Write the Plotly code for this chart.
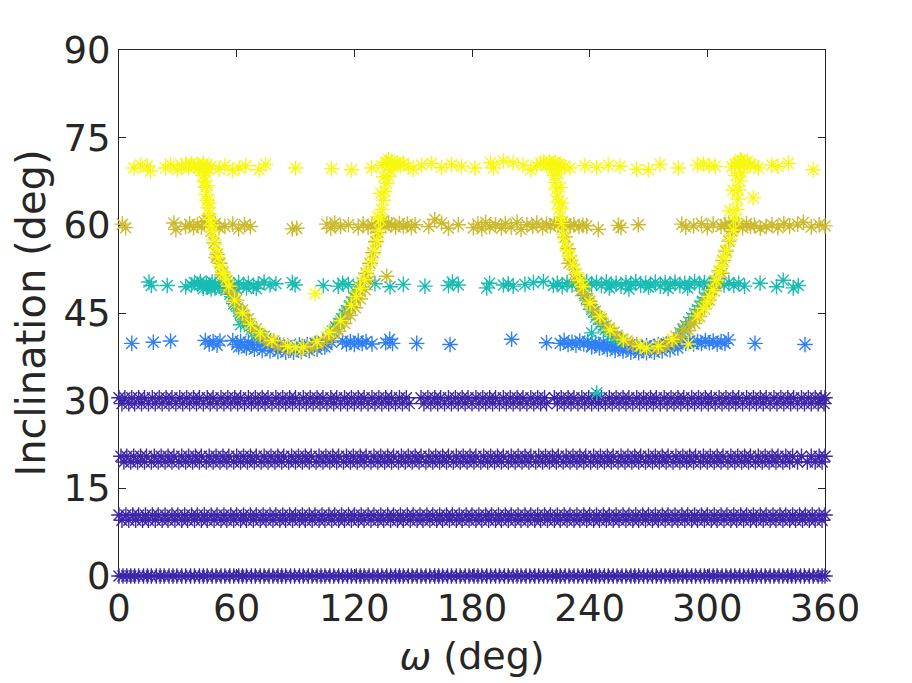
import plotly.graph_objects as go

# colours of the five groups (parula-like)
purple = "#3e26a8"
blue = "#2f7ff5"
cyan = "#18bcb2"
olive = "#cbba2c"
yellow = "#f8f80f"

# --- dense purple bands (two rows per band to give the band some thickness)
band30_inc = [30.5, 29.5]
band30_w_a = [0, 3, 6.5, 10, 13, 17, 20.5, 24, 27, 31, 34.5, 38, 41, 45, 48, 52, 55.5, 59, 62,
              66, 69.5, 73, 76, 80, 83.5, 87, 90, 94, 97.5, 101, 104, 108, 111, 115, 118.5,
              122, 125, 129, 132.5, 136, 139, 143, 146.5, 154, 157.5, 161, 164, 168, 171.5,
              175, 178, 182, 185.5, 189, 192, 196, 199.5, 203, 206, 210, 213.5, 217, 222,
              225.5, 229, 232, 236, 239.5, 243, 246, 250, 253.5, 257, 260, 264, 267.5, 271,
              274, 278, 281.5, 285, 288, 292, 295.5, 299, 302, 306, 309.5, 313, 316, 320,
              323.5, 327, 330, 334, 337.5, 341, 344, 348, 351.5, 355, 358, 360]
band30_w_b = [1.5, 5, 8, 11.5, 15, 18.5, 22, 25.5, 29, 32.5, 36, 39.5, 43, 46.5, 50, 53.5,
              57, 60.5, 64, 67.5, 71, 74.5, 78, 81.5, 85, 88.5, 92, 95.5, 99, 102.5, 106,
              109.5, 113, 116.5, 120, 123.5, 127, 130.5, 134, 137.5, 141, 144.5, 148, 155.5,
              159, 162.5, 166, 169.5, 173, 176.5, 180, 183.5, 187, 190.5, 194, 197.5, 201,
              204.5, 208, 211.5, 215, 218, 223.5, 227, 230.5, 234, 237.5, 241, 244.5, 248,
              251.5, 255, 258.5, 262, 265.5, 269, 272.5, 276, 279.5, 283, 286.5, 290, 293.5,
              297, 300.5, 304, 307.5, 311, 314.5, 318, 321.5, 325, 328.5, 332, 335.5, 339,
              342.5, 346, 349.5, 353, 356.5, 359.5]

band20_inc = [20.5, 19.5]
band20_w_a = [1, 4, 7.5, 11, 14, 18, 21.5, 25, 28, 32, 35.5, 39, 42, 46, 49.5, 53, 56, 60,
              63.5, 67, 70, 74, 77.5, 81, 84, 88, 91.5, 95, 98, 102, 105.5, 109, 112, 116,
              119.5, 123, 126, 130, 133.5, 137, 140, 144, 147.5, 151, 154, 158, 161.5, 165,
              168, 172, 175.5, 179, 182, 186, 189.5, 193, 196, 200, 203.5, 207, 210, 214,
              217.5, 221, 224, 228, 231.5, 235, 238, 242, 245.5, 249, 252, 256, 259.5, 263,
              266, 270, 273.5, 277, 280, 284, 287.5, 291, 294, 298, 301.5, 305, 308, 312,
              315.5, 319, 322, 326, 329.5, 333, 336, 340, 343.5, 348, 353, 357, 360]
band20_w_b = [2.5, 6, 9.5, 13, 16.5, 20, 23.5, 27, 30.5, 34, 37.5, 41, 44.5, 48, 51.5, 55,
              58.5, 62, 65.5, 69, 72.5, 76, 79.5, 83, 86.5, 90, 93.5, 97, 100.5, 104, 107.5,
              111, 114.5, 118, 121.5, 125, 128.5, 132, 135.5, 139, 142.5, 146, 149.5, 153,
              156.5, 160, 163.5, 167, 170.5, 174, 177.5, 181, 184.5, 188, 191.5, 195, 198.5,
              202, 205.5, 209, 212.5, 216, 219.5, 223, 226.5, 230, 233.5, 237, 240.5, 244,
              247.5, 251, 254.5, 258, 261.5, 265, 268.5, 272, 275.5, 279, 282.5, 286, 289.5,
              293, 296.5, 300, 303.5, 307, 310.5, 314, 317.5, 321, 324.5, 328, 331.5, 335,
              338.5, 342, 346, 351, 355, 358.5]

band10_inc = [10.45, 9.55]
band10_w_a = [0, 3.5, 7, 10, 13.5, 17, 20, 23.5, 27, 30, 33.5, 37, 40, 43.5, 47, 50, 53.5,
              57, 60, 63.5, 67, 70, 73.5, 77, 80, 83.5, 87, 90, 93.5, 97, 100, 103.5, 107,
              110, 113.5, 117, 120, 123.5, 127, 130, 133.5, 137, 140, 143.5, 147, 150, 153.5,
              157, 160, 163.5, 167, 170, 173.5, 177, 180, 183.5, 187, 190, 193.5, 197, 200,
              203.5, 207, 210, 213.5, 217, 220, 223.5, 227, 230, 233.5, 237, 240, 243.5, 247,
              250, 253.5, 257, 260, 263.5, 267, 270, 273.5, 277, 280, 283.5, 287, 290, 293.5,
              297, 300, 303.5, 307, 310, 313.5, 317, 320, 323.5, 327, 330, 333.5, 337, 340,
              343.5, 347, 350, 353.5, 357, 360]
band10_w_b = [1.5, 5, 8.5, 12, 15, 18.5, 22, 25, 28.5, 32, 35, 38.5, 42, 45, 48.5, 52, 55,
              58.5, 62, 65, 68.5, 72, 75, 78.5, 82, 85, 88.5, 92, 95, 98.5, 102, 105, 108.5,
              112, 115, 118.5, 122, 125, 128.5, 132, 135, 138.5, 142, 145, 148.5, 152, 155,
              158.5, 162, 165, 168.5, 172, 175, 178.5, 182, 185, 188.5, 192, 195, 198.5, 202,
              205, 208.5, 212, 215, 218.5, 222, 225, 228.5, 232, 235, 238.5, 242, 245, 248.5,
              252, 255, 258.5, 262, 265, 268.5, 272, 275, 278.5, 282, 285, 288.5, 292, 295,
              298.5, 302, 305, 308.5, 312, 315, 318.5, 322, 325, 328.5, 332, 335, 338.5, 342,
              345, 348.5, 352, 355, 358.5]

band0_inc = 0.0
band0_w = [0, 2, 4, 6, 8, 10, 12.5, 14.5, 16.5, 19, 21, 23, 25.5, 27.5, 29.5, 32, 34, 36.5,
           38.5, 41, 43, 45, 47.5, 49.5, 52, 54, 56.5, 58.5, 61, 63, 65, 67.5, 69.5, 72, 74,
           76.5, 78.5, 81, 83, 85, 87.5, 89.5, 92, 94, 96.5, 98.5, 101, 103, 105, 107.5,
           109.5, 112, 114, 116.5, 118.5, 121, 123, 125, 127.5, 129.5, 132, 134, 136.5,
           138.5, 141, 143, 145, 147.5, 149.5, 152, 154, 156.5, 158.5, 161, 163, 165, 167.5,
           169.5, 172, 174, 176.5, 178.5, 181, 183, 185, 187.5, 189.5, 192, 194, 196.5,
           198.5, 201, 203, 205, 207.5, 209.5, 212, 214, 216.5, 218.5, 221, 223, 225, 227.5,
           229.5, 232, 234, 236.5, 238.5, 241, 243, 245, 247.5, 249.5, 252, 254, 256.5,
           258.5, 261, 263, 265, 267.5, 269.5, 272, 274, 276.5, 278.5, 281, 283, 285, 287.5,
           289.5, 292, 294, 296.5, 298.5, 301, 303, 305, 307.5, 309.5, 312, 314, 316.5,
           318.5, 321, 323, 325, 327.5, 329.5, 332, 334, 336.5, 338.5, 341, 343, 345, 347.5,
           349.5, 352, 354, 356.5, 358.5, 360]

# --- 40 deg group (blue)
blue_w = [6.5, 17.5, 26.3, 44, 46, 48, 50, 51.5, 58, 60, 62, 64, 66, 68, 70, 72, 74, 76, 78,
          80, 82, 84, 86, 88, 90, 92, 94, 96, 98, 100, 102, 104, 106, 108.4, 114, 116, 118,
          120, 122, 124, 126, 129, 136, 138, 139.5, 151.8, 168.8, 200.2, 218, 225, 227, 229,
          231, 233, 235, 237, 239, 241, 243, 245, 247, 249, 251, 253, 255, 257, 259, 261,
          263, 265, 267, 269, 271, 273, 275, 277, 279, 281, 283, 285, 287, 289, 291, 293,
          295, 297, 299, 301, 303, 305, 307, 309, 310.7, 324.3, 349.8,
          61, 65, 69, 73, 77, 81, 85, 89, 93, 97, 101, 105,
          241, 245, 249, 253, 257, 261, 265, 269, 273, 277, 281, 285]
blue_i = [39.8, 40, 40.2, 40.3, 39.7, 40.1, 39.5, 40.2, 40.3, 39.6, 40.1, 39.4, 40, 39.5,
          40.2, 39.6, 39.9, 39.4, 39.8, 39.2, 39.5, 39.1, 39.4, 39, 39.3, 39.5, 39.2, 39.6,
          39.3, 39.8, 39.5, 40.1, 39.6, 40, 40.2, 39.7, 40.1, 39.6, 40.2, 39.8, 40.1, 39.7,
          39.9, 40.5, 39.8, 39.8, 39.6, 40.5, 39.9, 39.8, 40.3, 39.6, 40, 39.5, 40.2, 39.7,
          40.1, 39.4, 39.9, 39.5, 40, 39.3, 39.7, 39.2, 39.6, 39, 39.4, 38.9, 39.2, 38.8,
          39.1, 39.4, 39, 39.3, 39.6, 39.2, 39.7, 39.4, 39.9, 39.6, 40.1, 39.8, 40.2, 39.7,
          40.1, 39.8, 40.3, 39.9, 40.2, 39.7, 40.1, 39.8, 40.4, 39.8, 39.6,
          39.2, 39.0, 38.8, 38.6, 38.5, 38.4, 38.3, 38.3, 38.4, 38.6, 38.8, 39.2,
          39.2, 39.0, 38.8, 38.6, 38.5, 38.3, 38.2, 38.2, 38.3, 38.5, 38.7, 39.0]

# --- 50 deg group (cyan): band, points on the U curves, strays
cyan_w = [15.3, 16.5, 24.6, 34, 37, 38.5, 40, 41.5, 43, 44.5, 46, 47.5, 49, 51, 53, 56, 58.5,
          61, 63.5, 66, 68.5, 71, 74, 77, 80, 88.4, 89.8, 104.2, 111.8, 114, 117, 122, 130.5,
          138.2, 145, 156, 168, 170, 173, 187.5, 189, 196, 198.5, 201, 207, 211.3, 216.4,
          221.5, 223.5, 226, 228.5, 231, 233.5, 236, 238.5, 241, 243.5, 246, 248.5, 251,
          253.5, 256, 258.5, 261, 263.5, 266, 268.5, 271, 273.5, 276, 278.5, 281, 283.5,
          286, 288.5, 291, 293.5, 296, 298.5, 301, 303.5, 306, 308.5, 311, 313.5, 316, 319,
          326.9, 335.3, 338.7, 343.8, 346.4,
          43, 45, 47, 49, 52, 55, 60, 65, 70, 250, 260, 270, 280, 290,
          55, 56.5, 57.5, 58.5, 59.5, 61, 62, 63, 64, 65, 66.5, 67.5, 69, 70.5, 72, 73.5, 75,
          109, 110.5, 112, 113.5, 115, 116, 117.5, 118.5, 120, 121,
          236.5, 237.5, 238.5, 239.5, 241, 242, 243, 244.5, 245.5, 247, 248, 249.5, 251, 252.5,
          254, 256,
          286, 287.5, 289, 290.5, 292, 293.5, 295, 296, 297.5, 298.5, 300, 301,
          62, 241, 243.6]
cyan_i = [50.3, 49.7, 49.7, 49.5, 49.8, 50.2, 49.9, 50.4, 49.7, 50.1, 49.8, 50.3, 49.9, 49.6,
          50.2, 50.1, 49.7, 50.2, 49.8, 50.1, 49.6, 49.9, 50.3, 49.8, 50, 50.2, 49.8, 49.7,
          49.6, 50.1, 49.9, 49.6, 50, 49.5, 49.9, 49.6, 49.7, 50.3, 49.8, 49.3, 50.1, 49.8,
          50, 49.6, 49.9, 50.2, 50.4, 49.7, 50.1, 49.5, 50.2, 49.8, 50.3, 49.6, 50.4, 49.9,
          50.2, 49.7, 50.3, 49.8, 50.1, 49.6, 50.2, 49.9, 50.4, 49.7, 50.1, 49.8, 50.3, 49.6,
          50.2, 49.9, 50.3, 49.7, 50.1, 49.8, 50.4, 49.9, 50.2, 49.6, 50.3, 50.1, 49.8, 50.2,
          49.7, 50.1, 49.6, 50.1, 49.5, 50.6, 49.3, 49.7,
          49.2, 49.4, 49.1, 49.3, 49.2, 49.4, 49.1, 49.3, 49.2, 49.3, 49.1, 49.4, 49.2, 49.3,
          49.4, 48.2, 47.8, 46.6, 46.4, 45.3, 45.0, 44.2, 43.9, 43.2, 42.8, 42.2, 41.8, 41.5,
          41.1, 40.9, 40.6,
          41.9, 42.6, 43.2, 44.0, 44.8, 45.4, 46.2, 46.9, 47.7, 48.4,
          49.1, 48.0, 47.5, 46.5, 45.6, 45.2, 44.3, 43.9, 43.2, 42.7, 42.2, 41.7, 41.3, 40.9,
          40.6, 40.3,
          41.6, 42.2, 42.8, 43.5, 44.2, 44.9, 45.6, 46.2, 47.0, 47.6, 48.4, 49.0,
          43, 41.6, 31.3]

# --- 60 deg group (olive)
olive_w = [1.7, 3.4, 28, 29, 34, 36, 38, 40, 42, 43.5, 45, 49, 51, 54, 58, 61, 64, 67, 88.4,
           90.6, 106, 108, 110, 113, 117, 122, 124.5, 127, 129, 131, 133, 134.5, 136, 137.5,
           139, 141, 143, 145, 147, 149, 151, 158, 161, 164.5, 168, 173, 180.7, 183, 185,
           187, 189, 192, 195, 197, 200, 203, 205, 208, 211, 213, 216, 218, 220, 222, 224,
           226, 228, 230, 232, 234.5, 236.5, 238.5, 244.4, 254.6, 256, 264.8, 287, 289, 293,
           297, 300, 303, 307, 309, 311, 312.5, 314, 316, 318, 320, 322, 324, 327, 330, 333,
           336, 339, 342, 346, 349, 353, 357, 360,
           46, 47, 48.5, 50, 51.5, 53, 55, 56.5, 58, 60, 63, 66, 70, 74, 79, 84,
           96, 101, 106, 110, 113, 116, 118, 120, 122, 124, 126, 128, 129.5, 131, 132,
           226, 227.5, 229, 230.5, 232, 234, 236, 238, 240, 243, 246, 250, 254, 259, 264,
           276, 280, 284, 288, 291, 294, 297, 299.5, 302, 304, 306, 308, 309.5, 311, 312.5,
           49.5, 52.5, 55.5, 58.5, 61.5, 64.5, 68, 72, 76, 81, 87, 93, 99, 104, 108.5, 112,
           115, 118, 120.5, 123, 125.5, 127.5,
           229.5, 232.5, 235.5, 238.5, 241.5, 245, 248.5, 252.5, 257, 262, 268, 274, 279,
           283, 287, 290.5, 293.5, 296, 298.5, 301, 303.5, 305.5, 307.5,
           136.5]
olive_i = [60.2, 59.6, 60.4, 59.3, 59.8, 60.2, 59.6, 60.1, 59.7, 60.6, 60.8, 60.3, 59.6,
           59.8, 60.2, 59.4, 60.1, 59.8, 59.4, 59.5, 60.2, 59.5, 60.4, 59.8, 60.1, 59.6, 60.2,
           59.7, 60.1, 59.5, 60.3, 60.7, 59.9, 60.4, 60.1, 59.7, 60.3, 59.8, 60.2, 59.6, 60.1,
           59.8, 61, 60.4, 59.5, 60.1, 59.6, 60.2, 59.4, 60.5, 59.8, 60.1, 59.5, 60.3, 59.7,
           60.5, 59.3, 60.1, 59.8, 60.4, 59.6, 60.2, 59.9, 60.3, 60.1, 59.7, 60.2, 59.9, 60.1,
           59.8, 60, 59.9, 59.3, 60, 59.6, 60.1, 60.2, 59.7, 59.9, 60.3, 59.6, 60.2, 59.8,
           60.1, 60.4, 59.5, 60.2, 60.1, 59.6, 60.3, 59.8, 60, 59.5, 59.8, 60.1, 59.6, 60.3,
           59.9, 60.2, 60.5, 59.7, 60.1, 59.9,
           61, 59, 57, 55, 53.5, 52, 50.5, 49.6, 48.5, 47.2, 45.5, 44, 42.3, 41, 40.2, 39.5,
           39.3, 39.8, 40.8, 42.2, 43.5, 45, 46.2, 47.5, 48.8, 50.2, 51.8, 53.5, 55.3, 57.2, 58.8,
           60.5, 58, 56, 54, 52.5, 51, 49.8, 48.3, 47, 45.3, 44, 42.4, 41.2, 40.2, 39.6,
           39.4, 40, 41, 42.3, 43.3, 44.6, 46, 47.3, 49, 50.5, 52.2, 54, 55.6, 57.3, 59,
           54.5, 51.5, 49.0, 47.0, 45.3, 43.8, 42.3, 41.0, 40.0, 39.2, 38.7, 38.6, 39.0, 39.8,
           40.8, 41.9, 43.2, 44.6, 45.9, 47.4, 49.0, 50.6,
           53.5, 50.8, 48.8, 47.2, 45.6, 44.2, 42.9, 41.7, 40.5, 39.5, 38.9, 38.8, 39.3, 40.0,
           40.9, 42.0, 43.2, 44.4, 45.7, 47.2, 48.8, 50.2, 51.8,
           51.3]

# --- 70 deg group (yellow): band, the two U curves, strays
yellow_w = [7.6, 11, 14.4, 16, 23.8, 26.3, 29.7, 32, 34, 35.5, 37, 38.5, 40, 41, 42.5, 44,
            45.5, 47, 51, 54, 57.8, 61.2, 64.6, 71.4, 74.8, 90, 108.4, 118.6, 128.8, 134, 136,
            137.5, 139, 140.5, 142, 143.5, 145, 147.5, 150, 154.3, 159.4, 164.5, 169.6, 174.7,
            181.5, 189.5, 191, 196, 201, 206, 210, 213, 215, 216.5, 218, 219.5, 221, 222.5,
            224, 225.5, 227, 230, 237.6, 243.6, 249.5, 255.5, 264, 269.9, 275.9, 285.2, 295,
            298, 301, 304, 312.4, 314, 316, 317.5, 319, 320.5, 322, 324, 326, 332.8, 336,
            341.3, 354,
            42, 43, 43.5, 44, 44.5, 45, 45.5, 46, 46.5, 47, 47.5, 48.5, 49.5, 50.5, 51.5,
            53, 54.5, 56, 59, 63, 67, 72, 78, 86, 90, 94, 101, 107, 113, 118.5, 121, 123,
            125, 127, 128.8, 130.3, 131.5, 132.5, 133.3, 134, 134.8, 135.6, 136.5, 137.5,
            138.5, 140,
            221, 222, 222.5, 223, 223.5, 224, 224.5, 225.2, 225.8, 226.6, 227.5, 228.5, 230,
            231.5, 233.4, 235, 236.8, 240.2, 245.3, 250.4, 257.2, 265.7, 269, 275, 282,
            290.3, 295, 298, 300, 301.3, 303, 304.5, 306, 307.3, 308.6, 309.8, 311.5, 313.3,
            314.3, 315, 315.5, 316, 316.6, 317.5, 318.5,
            43, 44.2, 45, 46, 132, 133.5, 135, 136.5, 137.5, 222.5, 223.8, 225, 226, 311.5,
            313, 314.5, 315.7, 316.8,
            100, 323.4]
yellow_i = [69.8, 70.3, 70.1, 69.3, 69.8, 70.4, 69.5, 70.2, 70.5, 69.8, 70.6, 70.1, 70.4,
            69.8, 70.2, 70, 69.7, 70.1, 69.6, 70.2, 69.4, 69.8, 70.2, 69.5, 70.4, 69.8, 69.7,
            69.5, 69.8, 70.2, 70.8, 70.4, 70.9, 70.5, 70.7, 70.3, 70.6, 70.1, 69.6, 70.3, 70.6,
            69.9, 70.4, 70.1, 69.8, 70.7, 69.8, 71, 70.7, 70.3, 69.5, 70.2, 70.6, 70.8, 70.3,
            70.9, 70.5, 70.8, 70.4, 70.2, 70, 69.8, 70.2, 69.9, 70.3, 70.1, 69.6, 69.5, 70.4,
            69.8, 70.3, 70.5, 70.2, 70.1, 70, 70.5, 70.8, 71, 70.6, 70.9, 70.4, 70.2, 69.8,
            70.3, 70.1, 70.6, 69.5,
            69.5, 68.5, 67.5, 66.5, 65.3, 64.2, 63, 62, 61, 60, 59, 57.5, 56, 54.5, 53,
            51.8, 50.8, 49.6, 47.2, 45, 43.1, 41.6, 40.3, 39.3, 39.1, 39.2, 40.1, 41.7, 43.7,
            46.3, 47.8, 49.2, 50.7, 52.3, 54, 55.8, 57.5, 59.2, 61, 62.7, 64.3, 65.8, 67.2,
            68.4, 69.4, 70,
            69.5, 68.5, 67.3, 66.2, 65, 64, 62.8, 61.5, 60.3, 58.5, 57, 55.6, 54.7, 53.2,
            51.8, 50.6, 49.5, 46.7, 44.4, 42.1, 40.4, 39.3, 39, 39.3, 40.5, 39.7, 44.5, 45.8,
            46.9, 47.8, 49, 50.6, 52, 53, 54.5, 55.8, 57.6, 59.2, 61, 62.7, 64.5, 66, 67.6,
            69, 70,
            70.6, 69.0, 66.8, 63.8, 61.5, 65.5, 68.3, 70.8, 71.2, 70.5, 68.8, 66.5, 63.8, 62.5,
            66.0, 68.5, 70.6, 71.2,
            48.3, 64.7]

font = "DejaVu Sans"
ink = "#262626"

fig = go.Figure()


def add_points(w, inc, color):
    fig.add_trace(go.Scatter(
        x=w, y=inc, mode="markers", cliponaxis=False, showlegend=False,
        marker=dict(symbol="asterisk-open", size=13, color=color,
                    line=dict(color=color, width=1.4)),
    ))


add_points(band0_w, [band0_inc] * len(band0_w), purple)
add_points(band10_w_a, [band10_inc[0]] * len(band10_w_a), purple)
add_points(band10_w_b, [band10_inc[1]] * len(band10_w_b), purple)
add_points(band20_w_a, [band20_inc[0]] * len(band20_w_a), purple)
add_points(band20_w_b, [band20_inc[1]] * len(band20_w_b), purple)
add_points(band30_w_a, [band30_inc[0]] * len(band30_w_a), purple)
add_points(band30_w_b, [band30_inc[1]] * len(band30_w_b), purple)
add_points(blue_w, blue_i, blue)
add_points(cyan_w, cyan_i, cyan)
add_points(olive_w, olive_i, olive)
add_points(yellow_w, yellow_i, yellow)

axis_style = dict(
    showgrid=False, zeroline=False, showline=True, linecolor=ink, linewidth=1,
    mirror="ticks", ticks="inside", ticklen=7, tickwidth=1, tickcolor=ink,
    tickfont=dict(family=font, size=37, color=ink), layer="below traces",
)

fig.update_xaxes(range=[0, 360], tickvals=[0, 60, 120, 180, 240, 300, 360],
                 title=dict(text="<i>ω</i> (deg)", font=dict(family=font, size=38, color=ink),
                            standoff=12),
                 **axis_style)
fig.update_yaxes(range=[0, 90], tickvals=[0, 15, 30, 45, 60, 75, 90],
                 title=dict(text="Inclination (deg)", font=dict(family=font, size=40, color=ink),
                            standoff=16),
                 **axis_style)

# page body adds an 8px offset, so margins are shifted by that amount
fig.update_layout(
    width=912, height=683,
    margin=dict(l=111, r=95, t=42, b=115, autoexpand=False),
    plot_bgcolor="white", paper_bgcolor="white",
)

fig.write_html("out.html")
